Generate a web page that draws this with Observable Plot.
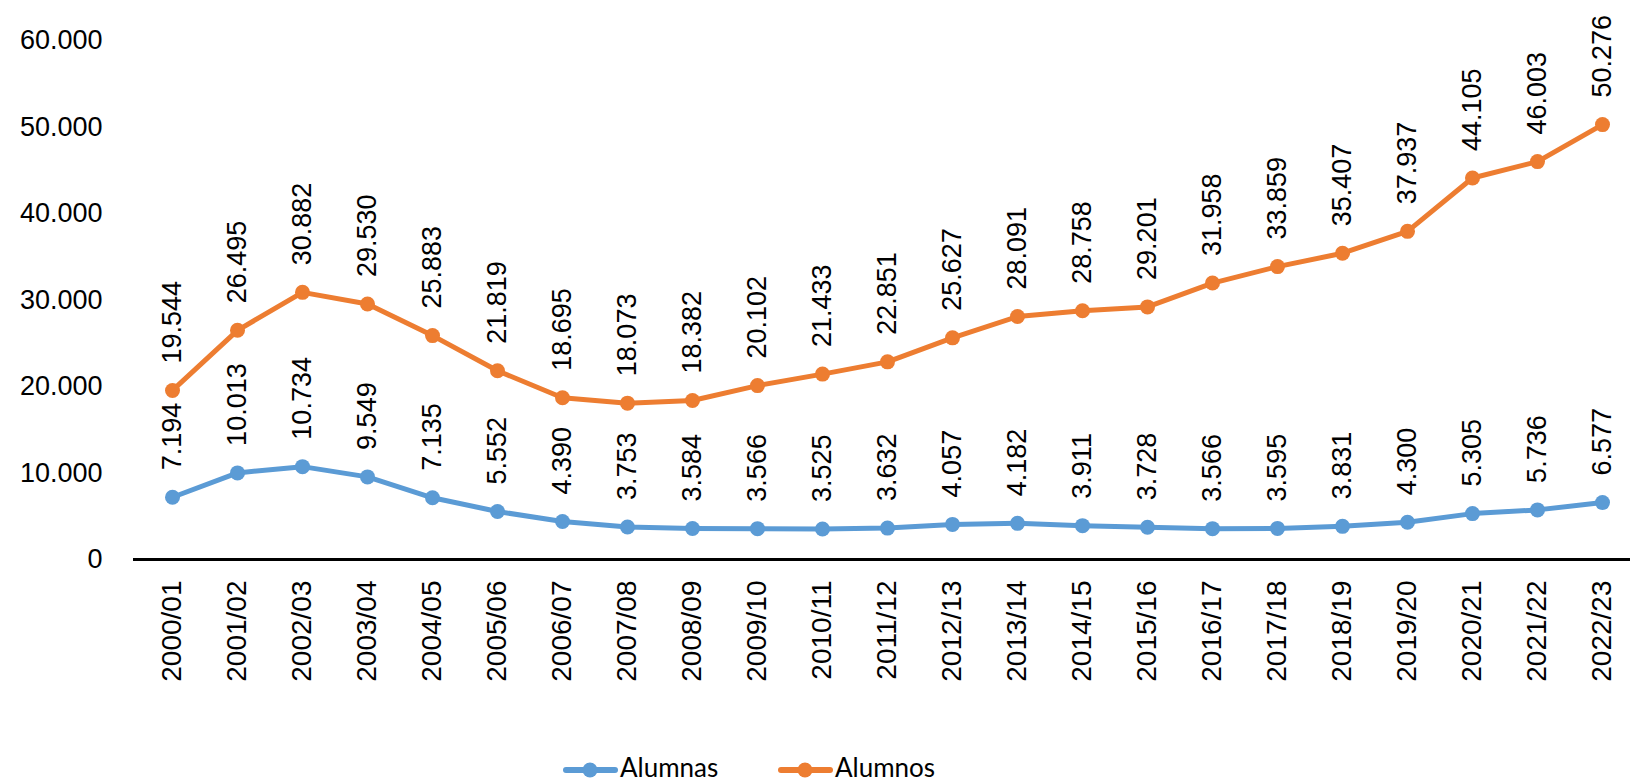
<!DOCTYPE html>
<html>
<head>
<meta charset="utf-8">
<script src="https://cdn.jsdelivr.net/npm/d3@7"></script>
<script src="https://cdn.jsdelivr.net/npm/@observablehq/plot@0.6"></script>
<style>
  html, body { margin: 0; padding: 0; background: #fff; }
  body { width: 1630px; height: 783px; overflow: hidden; position: relative; font-family: "Liberation Sans", Arial, sans-serif; color: #000; }
  #chart { position: absolute; left: 0; top: 0; }
  #legend { position: absolute; left: 0; top: 740px; width: 1630px; height: 43px; }
  #legend svg { display: block; }
</style>
</head>
<body>
<div id="chart"></div>
<div id="legend"></div>
<script>
const years = ["2000/01","2001/02","2002/03","2003/04","2004/05","2005/06","2006/07","2007/08","2008/09","2009/10","2010/11","2011/12","2012/13","2013/14","2014/15","2015/16","2016/17","2017/18","2018/19","2019/20","2020/21","2021/22","2022/23"];
const alumnas = [7194,10013,10734,9549,7135,5552,4390,3753,3584,3566,3525,3632,4057,4182,3911,3728,3566,3595,3831,4300,5305,5736,6577];
const alumnos = [19544,26495,30882,29530,25883,21819,18695,18073,18382,20102,21433,22851,25627,28091,28758,29201,31958,33859,35407,37937,44105,46003,50276];
const series = ["Alumnas","Alumnos"];
const colors = ["#5B9BD5","#ED7D31"];
const yTicks = [0,10000,20000,30000,40000,50000,60000];

const loc = d3.formatLocale({decimal: ",", thousands: ".", grouping: [3], currency: ["", "€"]});
const fmt = loc.format(",");

const data = [];
years.forEach((y, i) => {
  data.push({year: y, serie: series[0], value: alumnas[i]});
  data.push({year: y, serie: series[1], value: alumnos[i]});
});

const chart = Plot.plot({
  width: 1630,
  height: 740,
  marginTop: 40,
  marginBottom: 181,
  marginLeft: 133,
  marginRight: 0,
  style: {fontFamily: '"Liberation Sans", Arial, sans-serif', color: "#000", background: "#fff", overflow: "visible"},
  x: {type: "point", domain: years, range: [165.7, 1608], padding: 0, label: null},
  y: {domain: [0, 60000], label: null},
  color: {domain: series, range: colors},
  marks: [
    Plot.axisY({ticks: yTicks, tickFormat: d => fmt(d), tickSize: 0, tickPadding: 31, fontSize: 27, label: null}),
    Plot.axisX({tickRotate: -90, tickSize: 0, tickPadding: 21, fontSize: 28, label: null}),
    Plot.ruleY([0], {stroke: "#000", strokeWidth: 3}),
    Plot.line(data, {x: "year", y: "value", z: "serie", stroke: "serie", strokeWidth: 5, strokeLinejoin: "round", strokeLinecap: "round"}),
    Plot.dot(data, {x: "year", y: "value", fill: "serie", r: 7.5, stroke: null}),
    Plot.text(data, {x: "year", y: "value", text: d => fmt(d.value), rotate: -90, textAnchor: "start", lineAnchor: "middle", dy: -27, fontSize: 27, fill: "#000"})
  ]
});
document.getElementById("chart").appendChild(chart);

// legend (HTML/SVG, below the chart)
const legendX = [563, 778];
const ns = "http://www.w3.org/2000/svg";
const lsvg = document.createElementNS(ns, "svg");
lsvg.setAttribute("width", 1630);
lsvg.setAttribute("height", 43);
series.forEach((s, i) => {
  const x0 = legendX[i];
  lsvg.innerHTML += `<line x1="${x0 + 3}" y1="30" x2="${x0 + 52}" y2="30" stroke="${colors[i]}" stroke-width="6" stroke-linecap="round"/>` +
    `<circle cx="${x0 + 27}" cy="30" r="7.5" fill="${colors[i]}"/>` +
    `<text x="${x0 + 57}" y="37" font-family="Lato, 'Liberation Sans', sans-serif" font-size="26" fill="#000">${s}</text>`;
});
document.getElementById("legend").appendChild(lsvg);
</script>
</body>
</html>
